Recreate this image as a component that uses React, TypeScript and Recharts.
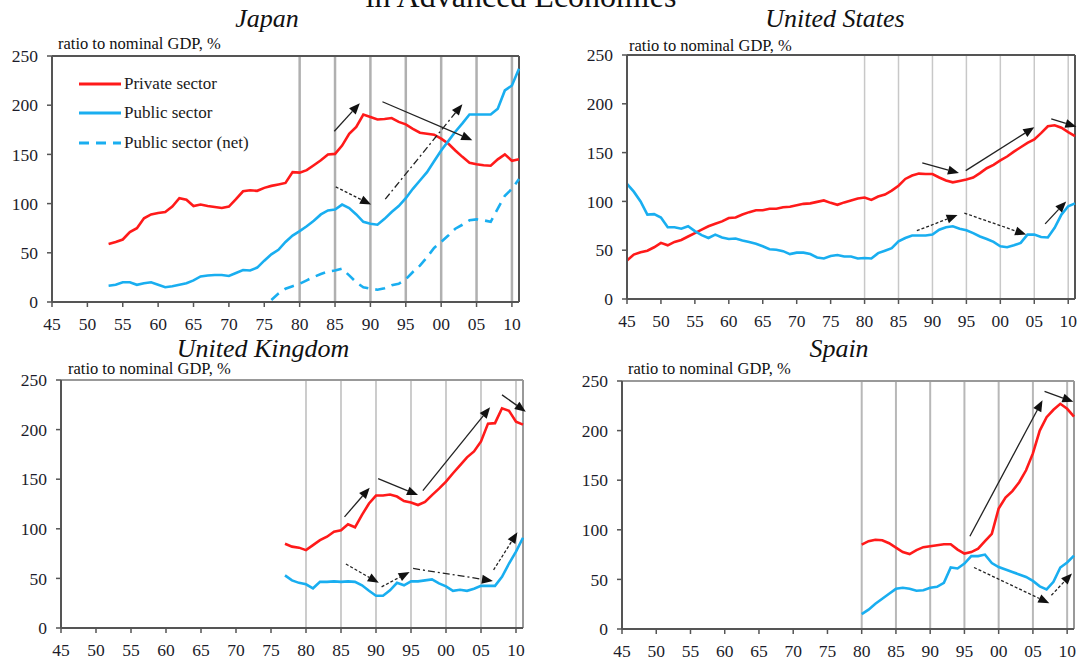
import { LineChart, Line, XAxis, YAxis, ReferenceLine, Legend } from 'recharts';

const serif = '"Liberation Serif", "Times New Roman", serif';

const RED = '#ff1a1a';
const BLUE = '#19aef0';

// Japan, annual, from 1953 (net public debt from 1976)
const jpStart = 1953;
const jpPrivate = [
  59, 61, 63.5, 71, 75, 85, 89,
  90.5, 91.5, 97, 105.5, 104, 97.5, 99, 97.5, 96.5, 95.5,
  97, 104.5, 112.5, 113.5, 113, 116, 118, 119.5, 121, 132,
  131.5, 134, 139, 144, 150, 150.5, 159, 171, 178, 190.5,
  188, 185.5, 186, 187, 183, 180.5, 176, 172, 171, 170,
  166, 161, 154, 147.5, 141.5, 140, 139, 138.5, 145, 150,
  143.5, 145,
];
const jpPublic = [
  16.5, 17.5, 20, 20, 17.5, 19, 20,
  17.5, 15, 16, 17.5, 19, 22, 26, 27, 27.5, 27.5,
  26.5, 29.5, 32.5, 32, 35, 42, 48.5, 53, 61, 67.5,
  72, 77, 82.5, 89, 93, 94, 99, 95.5, 89, 81.5,
  79.5, 78.5, 84.5, 91.5, 97.5, 105.5, 115, 123.5, 132, 143,
  154, 163.5, 173, 181.5, 190.5, 190.5, 190.5, 190.5, 196.5, 215,
  220, 237,
];
const jpNetStart = 1976;
const jpPublicNet = [
  2, 8.5, 13.5, 16,
  18.5, 22, 25.5, 28.5, 31, 32, 34, 27, 20, 15,
  13.5, 12.5, 14, 17, 18.5, 23, 30.5, 37, 45.5, 55,
  61, 67.5, 74.5, 78.5, 83, 84, 83, 81.5, 95, 108,
  115, 125,
];

// United States, from 1945
const usStart = 1945;
const usPrivate = [
  39.5, 45.5, 48, 49.5, 53,
  57.5, 55, 58.5, 60.5, 64, 67.5, 71, 74.5, 77, 79.5,
  83, 83.5, 86.5, 89, 91, 91, 92.5, 92.5, 94, 94.5,
  96, 97.5, 98, 99.5, 101, 98.5, 96.5, 99, 101, 103,
  104, 101.5, 105, 107, 111, 116, 123, 126.5, 128.5, 128,
  128, 124.5, 121.5, 119.5, 121, 122.5, 124.5, 129, 134, 137.5,
  142, 146, 151, 155.5, 160, 163.5, 170, 177, 178, 175.5,
  171, 167,
];
const usPublic = [
  118, 110, 100, 86.5, 87,
  83.5, 73.5, 73.5, 72, 74.5, 69.5, 65.5, 62.5, 66, 63,
  61.5, 62, 60, 58.5, 56.5, 54, 51, 50.5, 49, 46,
  47.5, 47.5, 46, 42.5, 41.5, 44, 45, 43.5, 43.5, 41.5,
  42, 41.5, 47, 49.5, 52, 59, 62.5, 65, 65, 65,
  66, 71, 73.5, 74.5, 72, 70.5, 67.5, 64, 61.5, 58.5,
  54, 53, 55, 57.5, 66, 66, 63.5, 63, 73, 86.5,
  95, 98,
];

// United Kingdom, from 1977
const ukStart = 1977;
const ukPrivate = [
  85, 82, 81,
  78.5, 83.5, 88.5, 92, 97, 98.5, 104.5, 101.5, 114, 125.5,
  133.5, 133.5, 134.5, 132.5, 128, 126.5, 124, 127, 134, 140.5,
  147.5, 156, 164, 172, 178, 188, 206, 206.5, 221.5, 219,
  208, 205,
];
const ukPublic = [
  53, 48, 45.5,
  44, 40, 46.5, 46.5, 47, 46.5, 47, 46.5, 43, 37.5,
  32.5, 32.5, 38, 45.5, 43, 47, 47, 48, 49, 45,
  42, 37.5, 38.5, 37.5, 39.5, 42.5, 42.5, 42.5, 51.5, 65,
  77, 91,
];

// Spain, from 1980
const esStart = 1980;
const esPrivate = [
  85, 88.5, 90, 89.5, 86.5, 82, 77.5, 75.5, 79.5, 82.5,
  83.5, 84.5, 85.5, 85.5, 80, 76, 77.5, 81, 88.5, 96,
  121.5, 132.5, 139, 148, 160, 177, 200, 213.5, 221, 227,
  222, 214,
];
const esPublic = [
  15, 19.5, 25.5, 30.5, 35.5, 40.5, 41.5, 40.5, 38.5, 39,
  41.5, 42.5, 46.5, 62, 61, 66, 73.5, 73.5, 75, 66.5,
  62.5, 60, 57.5, 55, 52.5, 48.5, 43, 40, 47.5, 62,
  67, 74,
];

// trend arrows: [fromYear, fromValue, toYear, toValue, style]
type Arrow = [number, number, number, number, 'solid' | 'dot' | 'dashdot'];
const jpArrows: Arrow[] = [
  [1984.9, 173.5, 1988.5, 202, 'solid'],
  [1991.7, 203.5, 2004.4, 164.5, 'solid'],
  [1985.1, 117, 1990.1, 99, 'dot'],
  [1992.1, 104.5, 2003, 201, 'dashdot'],
];
const usArrows: Arrow[] = [
  [1988.5, 139.5, 1993.9, 129, 'solid'],
  [1994.9, 131.5, 2005, 176, 'solid'],
  [2007.5, 184.5, 2011.2, 176.5, 'solid'],
  [1987.7, 70, 1993.7, 86, 'dot'],
  [1994.7, 88, 2003.8, 66, 'dot'],
  [2006.6, 77, 2009.7, 100, 'solid'],
];
const ukArrows: Arrow[] = [
  [1985.5, 112, 1989.1, 141.5, 'solid'],
  [1990.3, 150.5, 1996, 134, 'solid'],
  [1996.7, 138.5, 2006.3, 222.5, 'solid'],
  [2008, 235, 2011.4, 218, 'solid'],
  [1985.7, 64.5, 1990.4, 45.5, 'dot'],
  [1990.8, 41.5, 1994.8, 56.5, 'dot'],
  [1995.3, 60, 2006.7, 47.5, 'dashdot'],
  [2006.8, 58.5, 2010.2, 96.5, 'dot'],
];
const esArrows: Arrow[] = [
  [1995.8, 93.5, 2006.4, 230.5, 'solid'],
  [2006.7, 239.5, 2010.9, 229, 'solid'],
  [1996.4, 62, 2007.4, 26, 'dot'],
  [2007.7, 34, 2010.7, 56, 'dot'],
];

const xTicks = [1945, 1950, 1955, 1960, 1965, 1970, 1975, 1980, 1985, 1990, 1995, 2000, 2005, 2010];
const yTicks = [0, 50, 100, 150, 200, 250];
const gridYears = [1980, 1985, 1990, 1995, 2000, 2005, 2010];
const X_MIN = 1945;
const X_MAX = 2011;

type Series = { key: string; start: number; values: number[] };

function buildRows(series: Series[]) {
  const rows: Record<string, number>[] = [];
  for (let year = X_MIN; year <= X_MAX; year++) {
    const row: Record<string, number> = { year };
    series.forEach((s) => {
      const v = s.values[year - s.start];
      if (year >= s.start && v !== undefined) row[s.key] = v;
    });
    rows.push(row);
  }
  return rows;
}

const dashFor = (style: Arrow[4]) =>
  style === 'dot' ? '3 2' : style === 'dashdot' ? '7 3 2 3' : undefined;

function ArrowShape(props: any) {
  const { x1, y1, x2, y2, dash } = props;
  const dx = x2 - x1;
  const dy = y2 - y1;
  const len = Math.hypot(dx, dy) || 1;
  const ux = dx / len;
  const uy = dy / len;
  const head = 11;
  const half = 4.5;
  const bx = x2 - ux * head;
  const by = y2 - uy * head;
  return (
    <g>
      <line x1={x1} y1={y1} x2={bx} y2={by} stroke="#222" strokeWidth={1.3} strokeDasharray={dash} />
      <polygon
        points={`${x2},${y2} ${bx - uy * half},${by + ux * half} ${bx + uy * half},${by - ux * half}`}
        fill="#111"
      />
    </g>
  );
}

function LegendBox(props: any) {
  const { payload } = props;
  return (
    <div style={{ fontFamily: serif, fontSize: 17, color: '#1a1a1a' }}>
      {(payload || []).map((p: any) => {
        const dashed = String(p.value).includes('net');
        return (
          <div key={p.value} style={{ display: 'flex', alignItems: 'center', height: 29.5 }}>
            <svg width={46} height={10}>
              <line x1={1} y1={5} x2={43} y2={5} stroke={p.color} strokeWidth={3} strokeDasharray={dashed ? '10 7' : undefined} />
            </svg>
            <span style={{ lineHeight: '20px' }}>{p.value}</span>
          </div>
        );
      })}
    </div>
  );
}

const YW = 50;
const MT = 16;
const MR = 6;
const XH = 34;

type PanelProps = {
  plot: { left: number; top: number; width: number; height: number };
  rows: Record<string, number>[];
  arrows: Arrow[];
  gridColor: string;
  gridWidth: number;
  frameColor: string;
  withNet?: boolean;
  legend?: boolean;
};

function Panel({ plot, rows, arrows, gridColor, gridWidth, frameColor, withNet, legend }: PanelProps) {
  const tickStyle = { fill: '#1c1c2a', fontSize: 17.5, fontFamily: serif };
  return (
    <div style={{ position: 'absolute', left: plot.left - YW, top: plot.top - MT }}>
      <LineChart
        width={YW + plot.width + MR}
        height={MT + plot.height + XH}
        data={rows}
        margin={{ top: MT, right: MR, bottom: 0, left: 0 }}
      >
        <XAxis
          dataKey="year"
          type="number"
          domain={[X_MIN, X_MAX]}
          ticks={xTicks}
          interval={0}
          tickFormatter={(v: number) => String(v % 100).padStart(2, '0')}
          height={XH}
          tickSize={5}
          tickMargin={11}
          tick={tickStyle}
          axisLine={{ stroke: '#555', strokeWidth: 2 }}
          tickLine={{ stroke: '#555', strokeWidth: 1.5 }}
        />
        <YAxis
          type="number"
          domain={[0, 250]}
          ticks={yTicks}
          interval={0}
          width={YW}
          tickSize={5}
          tickMargin={9}
          tick={tickStyle}
          axisLine={{ stroke: '#555', strokeWidth: 2 }}
          tickLine={{ stroke: '#555', strokeWidth: 1.5 }}
        />
        {gridYears.map((g) => (
          <ReferenceLine key={g} x={g} stroke={gridColor} strokeWidth={gridWidth} />
        ))}
        <ReferenceLine y={250} stroke={frameColor} strokeWidth={2} />
        <ReferenceLine x={X_MAX} stroke={frameColor} strokeWidth={2} />
        <Line
          type="linear"
          dataKey="private"
          name="Private sector"
          stroke={RED}
          strokeWidth={2.6}
          dot={false}
          isAnimationActive={false}
        />
        <Line
          type="linear"
          dataKey="public"
          name="Public sector"
          stroke={BLUE}
          strokeWidth={2.6}
          dot={false}
          isAnimationActive={false}
        />
        {withNet && (
          <Line
            type="linear"
            dataKey="net"
            name="Public sector (net)"
            stroke={BLUE}
            strokeWidth={2.6}
            strokeDasharray="10 7"
            dot={false}
            isAnimationActive={false}
          />
        )}
        {arrows.map(([xa, ya, xb, yb, style], i) => (
          <ReferenceLine
            key={`a${i}`}
            segment={[{ x: xa, y: ya }, { x: xb, y: yb }]}
            ifOverflow="visible"
            shape={(p: any) => <ArrowShape {...p} dash={dashFor(style)} />}
          />
        ))}
        {legend && (
          <Legend
            layout="vertical"
            align="center"
            verticalAlign="middle"
            wrapperStyle={{ left: 76, top: 29, width: 220, height: 90 }}
            content={<LegendBox />}
          />
        )}
      </LineChart>
    </div>
  );
}

const jpRows = buildRows([
  { key: 'private', start: jpStart, values: jpPrivate },
  { key: 'public', start: jpStart, values: jpPublic },
  { key: 'net', start: jpNetStart, values: jpPublicNet },
]);
const usRows = buildRows([
  { key: 'private', start: usStart, values: usPrivate },
  { key: 'public', start: usStart, values: usPublic },
]);
const ukRows = buildRows([
  { key: 'private', start: ukStart, values: ukPrivate },
  { key: 'public', start: ukStart, values: ukPublic },
]);
const esRows = buildRows([
  { key: 'private', start: esStart, values: esPrivate },
  { key: 'public', start: esStart, values: esPublic },
]);

const unitLabel = 'ratio to nominal GDP, %';

export default function App() {
  return (
    <div
      style={{
        position: 'absolute',
        left: 0,
        top: 0,
        width: 1078,
        height: 662,
        overflow: 'hidden',
        background: '#fff',
      }}
    >
      <svg width={1078} height={662} style={{ position: 'absolute', left: 0, top: 0 }}>
        <g fontFamily={serif} fill="#111">
          <text x={521} y={7} fontSize={32} textAnchor="middle">in Advanced Economies</text>
          <text x={267} y={27} fontSize={26} fontStyle="italic" textAnchor="middle">Japan</text>
          <text x={835} y={27} fontSize={26} fontStyle="italic" textAnchor="middle">United States</text>
          <text x={263} y={357} fontSize={26} fontStyle="italic" textAnchor="middle">United Kingdom</text>
          <text x={839} y={357} fontSize={26} fontStyle="italic" textAnchor="middle">Spain</text>
          <text x={58} y={49} fontSize={16.5}>{unitLabel}</text>
          <text x={629} y={51} fontSize={16.5}>{unitLabel}</text>
          <text x={68} y={374} fontSize={16.5}>{unitLabel}</text>
          <text x={628} y={374} fontSize={16.5}>{unitLabel}</text>
        </g>
      </svg>
      <Panel
        plot={{ left: 52, top: 56, width: 467, height: 246 }}
        rows={jpRows}
        arrows={jpArrows}
        gridColor="#b0b0b0"
        gridWidth={2.5}
        frameColor="#555"
        withNet
        legend
      />
      <Panel
        plot={{ left: 627, top: 55, width: 448, height: 244 }}
        rows={usRows}
        arrows={usArrows}
        gridColor="#c8c8c8"
        gridWidth={1.5}
        frameColor="#555"
      />
      <Panel
        plot={{ left: 61, top: 380, width: 462, height: 248 }}
        rows={ukRows}
        arrows={ukArrows}
        gridColor="#c0c0c0"
        gridWidth={1.6}
        frameColor="#999"
      />
      <Panel
        plot={{ left: 622, top: 381, width: 452, height: 248 }}
        rows={esRows}
        arrows={esArrows}
        gridColor="#b8b8b8"
        gridWidth={2}
        frameColor="#999"
      />
    </div>
  );
}
